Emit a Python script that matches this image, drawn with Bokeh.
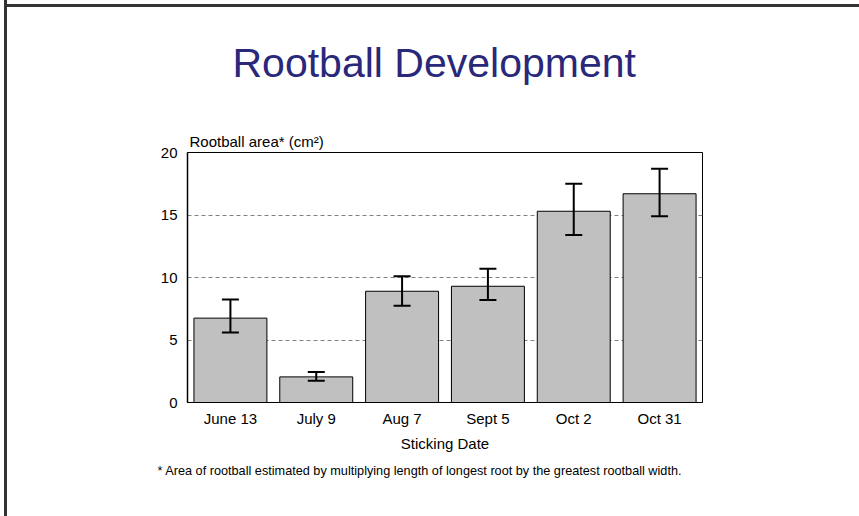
from bokeh.plotting import figure
from bokeh.models import Range1d, FixedTicker, ColumnDataSource, Whisker, TeeHead, Title
from bokeh.embed import file_html
from bokeh.resources import INLINE

dates = ["June 13", "July 9", "Aug 7", "Sept 5", "Oct 2", "Oct 31"]
area = [6.75, 2.05, 8.9, 9.3, 15.3, 16.7]
err_upper = [8.25, 2.45, 10.1, 10.7, 17.5, 18.7]
err_lower = [5.6, 1.75, 7.75, 8.2, 13.4, 14.9]
y_ticks = [0, 5, 10, 15, 20]

FONT = "Liberation Sans"
OX, OY = 7, -10        # page offset of the canvas
W, H = 852, 526
FL, FT, FW, FH = 187 - OX, 152 - OY, 515, 250
YMAX = 20
NX = len(dates)

xs = [i + 0.5 for i in range(NX)]

p = figure(width=W, height=H, output_backend="svg", toolbar_location=None,
           title_location=None,
           x_range=Range1d(0, NX), y_range=Range1d(0, YMAX),
           frame_width=FW, frame_height=FH,
           min_border_left=FL, min_border_top=FT,
           min_border_right=W - FL - FW, min_border_bottom=H - FT - FH)
bt, bb = 4 - OY, 7 - OY
p.styles = {"margin-left": "4px", "margin-top": f"{OY}px",
            "border-left": "3px solid #333333",
            "background": f"linear-gradient(to bottom, #ffffff 0px, #ffffff {bt}px, #333333 {bt}px, "
                          f"#333333 {bb}px, #ffffff {bb}px, #ffffff 100%)"}

src = ColumnDataSource(dict(x=xs, top=area, up=err_upper, lo=err_lower))
p.vbar(x="x", top="top", bottom=0, width=0.85, source=src,
       fill_color="#c0c0c0", line_color="black", line_width=1)
wh = Whisker(base="x", upper="up", lower="lo", source=src, level="overlay",
             line_color="black", line_width=2,
             upper_head=TeeHead(size=17, line_width=2, line_color="black"),
             lower_head=TeeHead(size=17, line_width=2, line_color="black"))
p.add_layout(wh)

p.xaxis.ticker = FixedTicker(ticks=xs)
p.xaxis.major_label_overrides = {x: d for x, d in zip(xs, dates)}
p.yaxis.ticker = FixedTicker(ticks=y_ticks)
for ax in (p.xaxis, p.yaxis):
    ax.major_tick_line_color = None
    ax.minor_tick_line_color = None
    ax.major_label_text_font = FONT
    ax.major_label_text_font_size = "15px"
    ax.major_label_text_color = "black"
    ax.axis_line_color = "black"
p.yaxis.axis_line_width = 1.5
p.xaxis.major_label_standoff = 1
p.yaxis.major_label_standoff = 4
p.xaxis.axis_label = "Sticking Date"
p.xaxis.axis_label_text_font = FONT
p.xaxis.axis_label_text_font_size = "15px"
p.xaxis.axis_label_text_font_style = "normal"
p.xaxis.axis_label_text_color = "black"
p.xaxis.axis_label_standoff = 5

p.xgrid.grid_line_color = None
p.ygrid.ticker = FixedTicker(ticks=[5, 10, 15])
p.ygrid.grid_line_color = "#808080"
p.ygrid.grid_line_dash = "4 3"
p.outline_line_color = "black"
p.outline_line_width = 1
p.background_fill_color = "white"
p.border_fill_color = "white"
p.border_fill_alpha = 0

p.add_layout(Title(text="Rootball area* (cm²)", align="left", offset=2, standoff=5,
                   vertical_align="bottom",
                   text_font=FONT, text_font_size="15px", text_font_style="normal",
                   text_color="black"), "above")
p.add_layout(Title(text="Rootball Development", align="left", offset=45, standoff=86,
                   vertical_align="bottom",
                   text_font=FONT, text_font_size="41px", text_font_style="normal",
                   text_color="#29287a"), "above")
p.add_layout(Title(text="* Area of rootball estimated by multiplying length of longest root by the greatest rootball width.",
                   align="left", offset=-30, standoff=18, vertical_align="top",
                   text_font=FONT, text_font_size="12.7px", text_font_style="normal",
                   text_color="black"), "below")

open("out.html", "w").write(file_html(p, INLINE))
